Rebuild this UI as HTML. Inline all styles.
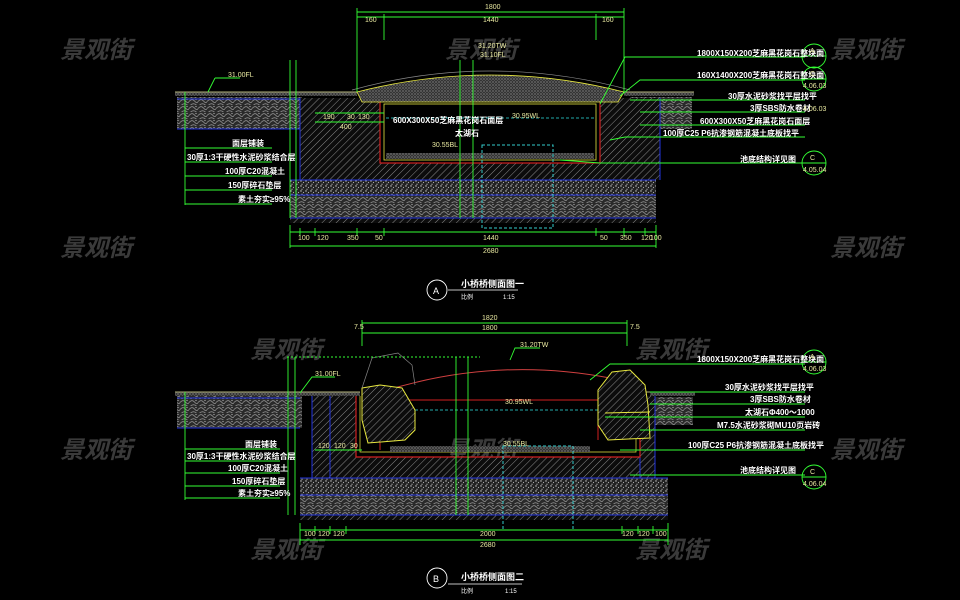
<!DOCTYPE html>
<html><head><meta charset="utf-8"><style>
html,body{margin:0;padding:0;background:#000;}
svg{display:block;}
text{font-family:"Liberation Sans","Noto Sans CJK SC",sans-serif;}
.d{fill:#e8e8a0;font-size:7px;}
.g{stroke:#3f3;stroke-width:0.9;fill:none;}
.lab{fill:#fff;font-size:8px;font-weight:bold;font-family:"Liberation Sans","Noto Sans CJK SC",sans-serif;}
.wm{fill:#6a6a6a;opacity:0.55;font-size:24px;font-style:italic;font-weight:bold;font-family:"Liberation Sans","Noto Sans CJK SC",sans-serif;}
</style></head><body>
<svg width="960" height="600" viewBox="0 0 960 600" xmlns="http://www.w3.org/2000/svg">
<defs>
<pattern id="h" width="5" height="5" patternUnits="userSpaceOnUse" patternTransform="rotate(45)">
<rect width="5" height="5" fill="#0c0c0c"/><line x1="0" y1="0" x2="0" y2="5" stroke="#aaa" stroke-width="0.8"/></pattern>
<pattern id="gv" width="5" height="5" patternUnits="userSpaceOnUse">
<rect width="5" height="5" fill="#222"/><circle cx="1" cy="1" r="0.7" fill="#ccc"/><circle cx="3.5" cy="2.5" r="0.6" fill="#aaa"/><circle cx="2" cy="4.2" r="0.6" fill="#bbb"/></pattern>
<pattern id="rb" width="9" height="7" patternUnits="userSpaceOnUse">
<rect width="9" height="7" fill="#2a2a2a"/><path d="M0 3.5 Q3 0 5.5 3 T9 3.5 M1.5 7 Q4.5 4.5 7.5 7" stroke="#9a9a9a" stroke-width="0.7" fill="none"/><circle cx="7" cy="1.5" r="0.6" fill="#bbb"/></pattern>
<pattern id="st" width="3" height="3" patternUnits="userSpaceOnUse">
<rect width="3" height="3" fill="#333"/><circle cx="1" cy="1" r="0.6" fill="#aaa"/><circle cx="2.3" cy="2.3" r="0.4" fill="#888"/></pattern>
</defs>
<rect width="960" height="600" fill="#000"/>

<g class="wm">
<text x="60" y="58">景观街</text><text x="445" y="58">景观街</text><text x="830" y="58">景观街</text>
<text x="60" y="256">景观街</text><text x="830" y="256">景观街</text>
<text x="250" y="358">景观街</text><text x="635" y="358">景观街</text>
<text x="60" y="458">景观街</text><text x="445" y="458">景观街</text><text x="830" y="458">景观街</text>
<text x="250" y="558">景观街</text><text x="635" y="558">景观街</text>
</g>

<!-- ============ SECTION A ============ -->
<rect x="175" y="92" width="182" height="4" fill="url(#st)"/>
<line x1="175" y1="92" x2="357" y2="92" stroke="#e8e8a0" stroke-width="0.8"/>
<rect x="177" y="97" width="125" height="32" fill="url(#rb)"/>
<line x1="177" y1="99" x2="300" y2="99" stroke="#2233dd"/>
<line x1="177" y1="129" x2="300" y2="129" stroke="#2233dd"/>
<rect x="624" y="92" width="70" height="4" fill="url(#st)"/>
<rect x="630" y="97" width="62" height="32" fill="url(#rb)"/>
<line x1="624" y1="92" x2="694" y2="92" stroke="#e8e8a0" stroke-width="0.8"/>
<path d="M300 98 H380 V163 H600 V98 H660 V180 H300 Z" fill="url(#h)"/>
<path d="M300 98 V180 M660 98 V180" stroke="#2233dd"/>
<rect x="380" y="100" width="220" height="63" fill="none" stroke="#d02020" stroke-width="1.2"/>
<rect x="384" y="104" width="212" height="56" fill="#000" stroke="#e8e840" stroke-width="0.8"/>
<rect x="386" y="153" width="208" height="6" fill="url(#st)"/>
<line x1="386" y1="118" x2="594" y2="118" stroke="#2aa" stroke-dasharray="3,2"/>
<path d="M357 92 Q490 58 624 92 L618 102 H362 Z" fill="url(#st)" stroke="#e8e840" stroke-width="0.8"/>
<path d="M352 90 Q490 52 630 90" stroke="#888" fill="none" stroke-width="0.7"/>
<rect x="290" y="180" width="366" height="15" fill="url(#gv)"/>
<rect x="290" y="195" width="366" height="23" fill="url(#rb)"/>
<rect x="290" y="218" width="366" height="5" fill="url(#h)"/>
<path d="M290 180 H656 M290 195 H656 M290 218 H656" stroke="#2233dd" stroke-width="1"/>
<rect x="482" y="145" width="71" height="83" fill="none" stroke="#3cc" stroke-dasharray="3,2"/>
<g class="g">
<line x1="357" y1="12" x2="624" y2="12"/><line x1="357" y1="17" x2="624" y2="17"/>
<line x1="357" y1="8" x2="357" y2="92"/><line x1="624" y1="8" x2="624" y2="92"/>
<line x1="384" y1="14" x2="384" y2="40"/><line x1="596" y1="14" x2="596" y2="40"/>
<line x1="290" y1="232" x2="656" y2="232"/><line x1="290" y1="246" x2="656" y2="246"/>
<line x1="290" y1="225" x2="290" y2="248"/><line x1="656" y1="225" x2="656" y2="248"/>
<line x1="300" y1="228" x2="300" y2="236"/><line x1="315" y1="228" x2="315" y2="236"/><line x1="357" y1="228" x2="357" y2="236"/><line x1="384" y1="228" x2="384" y2="236"/><line x1="596" y1="228" x2="596" y2="236"/><line x1="624" y1="228" x2="624" y2="236"/><line x1="645" y1="228" x2="645" y2="236"/>
<line x1="290" y1="60" x2="290" y2="218"/><line x1="296" y1="60" x2="296" y2="218"/>
<line x1="460" y1="60" x2="460" y2="218"/><line x1="473" y1="60" x2="473" y2="218"/>
<line x1="185" y1="92" x2="185" y2="205"/>
<line x1="185" y1="148" x2="272" y2="148"/><line x1="185" y1="162" x2="272" y2="162"/><line x1="185" y1="176" x2="272" y2="176"/><line x1="185" y1="190" x2="272" y2="190"/><line x1="185" y1="204" x2="272" y2="204"/>
<line x1="215" y1="78" x2="240" y2="78"/><line x1="215" y1="78" x2="208" y2="92"/>
<polyline points="600,104 625,57 805,57"/><polyline points="620,96 640,80 805,80"/><line x1="630" y1="100" x2="805" y2="100"/>
<line x1="640" y1="112" x2="805" y2="112"/><line x1="640" y1="125" x2="805" y2="125"/><polyline points="610,140 625,137 805,137"/><polyline points="560,160 600,163 805,163"/>
<line x1="315" y1="113" x2="384" y2="113"/><line x1="315" y1="122" x2="384" y2="122"/>
<circle cx="814" cy="56" r="12"/><line x1="802" y1="56" x2="826" y2="56"/>
<circle cx="814" cy="79" r="12"/><line x1="802" y1="79" x2="826" y2="79"/>
<circle cx="814" cy="163" r="12"/><line x1="802" y1="163" x2="826" y2="163"/>
</g>
<g class="d">
<text x="485" y="9">1800</text><text x="365" y="22">160</text><text x="483" y="22">1440</text><text x="602" y="22">160</text>
<text x="298" y="240">100</text><text x="317" y="240">120</text><text x="347" y="240">350</text><text x="375" y="240">50</text><text x="483" y="240">1440</text><text x="600" y="240">50</text><text x="620" y="240">350</text><text x="641" y="240">120</text><text x="650" y="240">100</text>
<text x="483" y="253">2680</text>
<text x="228" y="77">31.00FL</text><text x="478" y="48">31.20TW</text><text x="480" y="57">31.10FL</text><text x="512" y="118">30.95WL</text><text x="432" y="147">30.55BL</text>
<text x="323" y="119">190</text><text x="347" y="119">30</text><text x="358" y="119">130</text><text x="340" y="129">400</text>
</g>
<g class="lab">
<text x="232" y="146">面层铺装</text><text x="187" y="160">30厚1:3干硬性水泥砂浆结合层</text><text x="225" y="174">100厚C20混凝土</text><text x="228" y="188">150厚碎石垫层</text><text x="238" y="202">素土夯实≥95%</text>
<text x="393" y="123">600X300X50芝麻黑花岗石面层</text><text x="455" y="136">太湖石</text>
<text x="697" y="56">1800X150X200芝麻黑花岗石整块面</text><text x="697" y="78">160X1400X200芝麻黑花岗石整块面</text>
<text x="728" y="99">30厚水泥砂浆找平层找平</text><text x="750" y="111">3厚SBS防水卷材</text><text x="700" y="124">600X300X50芝麻黑花岗石面层</text>
<text x="663" y="136">100厚C25 P6抗渗钢筋混凝土底板找平</text><text x="740" y="162">池底结构详见图</text>
</g>
<g style="font-size:7px;fill:#e8e8a0"><text x="810" y="53">A</text><text x="803" y="88">4.06.03</text><text x="810" y="76">C</text><text x="803" y="111">4.06.03</text><text x="810" y="160">C</text><text x="803" y="172">4.05.04</text></g>
<circle cx="437" cy="290" r="10" fill="none" stroke="#fff" stroke-width="0.9"/>
<text x="433" y="294" style="fill:#fff;font-size:9px">A</text>
<line x1="448" y1="290" x2="518" y2="290" stroke="#fff" stroke-width="0.8"/>
<text x="461" y="287" style="fill:#fff;font-size:9px;font-weight:bold">小桥桥侧面图一</text>
<text x="461" y="299" style="fill:#fff;font-size:6px">比例</text><text x="503" y="299" style="fill:#fff;font-size:6px">1:15</text>

<!-- ============ SECTION B ============ -->
<rect x="175" y="392" width="185" height="4" fill="url(#st)"/>
<line x1="175" y1="392" x2="360" y2="392" stroke="#e8e8a0" stroke-width="0.8"/>
<rect x="177" y="396" width="125" height="32" fill="url(#rb)"/>
<line x1="177" y1="398" x2="300" y2="398" stroke="#2233dd"/>
<line x1="177" y1="428" x2="300" y2="428" stroke="#2233dd"/>
<rect x="650" y="392" width="45" height="4" fill="url(#st)"/>
<rect x="655" y="397" width="38" height="28" fill="url(#rb)"/>
<line x1="645" y1="392" x2="695" y2="392" stroke="#e8e8a0" stroke-width="0.8"/>
<path d="M312 396 H356 V457 H640 V396 H655 V478 H312 Z" fill="url(#h)"/>
<path d="M312 396 V478 M655 396 V478 M330 396 V478 M640 396 V478" stroke="#2233dd"/>
<path d="M356 396 V457 H640 V396" fill="none" stroke="#d02020" stroke-width="1.2"/>
<path d="M360 396 V452 H636 V396" fill="none" stroke="#e8e840" stroke-width="0.7"/>
<rect x="390" y="446" width="200" height="6" fill="url(#st)"/>
<line x1="400" y1="410" x2="600" y2="410" stroke="#2aa" stroke-dasharray="3,2"/>
<path d="M372 395 Q490 355 610 378" stroke="#d04040" fill="none" stroke-width="1"/>
<path d="M375 400 H600 M380 400 V450 M598 400 V440" stroke="#d02020" fill="none"/>
<path d="M362 388 L380 385 L402 388 L415 410 L415 430 L405 440 L368 443 L362 420 Z" fill="url(#h)" stroke="#e8e840"/>
<path d="M598 390 L612 372 L630 370 L645 385 L648 405 L650 438 L608 440 L598 425 Z" fill="url(#h)" stroke="#e8e840"/>
<path d="M605 413 L650 412" stroke="#e8e840"/>
<path d="M362 388 L372 358 L398 353 L412 365 L415 385" fill="none" stroke="#888" stroke-width="0.7"/>
<rect x="300" y="478" width="368" height="17" fill="url(#gv)"/>
<rect x="300" y="495" width="368" height="20" fill="url(#rb)"/>
<rect x="300" y="515" width="368" height="5" fill="url(#h)"/>
<path d="M300 478 H668 M300 495 H668 M300 515 H668" stroke="#2233dd"/>
<rect x="503" y="446" width="70" height="84" fill="none" stroke="#3cc" stroke-dasharray="3,2"/>
<g class="g">
<line x1="362" y1="323" x2="627" y2="323"/><line x1="362" y1="333" x2="627" y2="333"/>
<line x1="362" y1="320" x2="362" y2="346"/><line x1="627" y1="320" x2="627" y2="346"/>
<line x1="300" y1="530" x2="668" y2="530"/><line x1="300" y1="540" x2="668" y2="540"/>
<line x1="300" y1="523" x2="300" y2="545"/><line x1="668" y1="523" x2="668" y2="545"/>
<line x1="315" y1="526" x2="315" y2="534"/><line x1="330" y1="526" x2="330" y2="534"/><line x1="346" y1="526" x2="346" y2="534"/><line x1="622" y1="526" x2="622" y2="534"/><line x1="638" y1="526" x2="638" y2="534"/><line x1="653" y1="526" x2="653" y2="534"/>
<line x1="288" y1="357" x2="288" y2="515"/><line x1="295" y1="357" x2="295" y2="515"/>
<line x1="287" y1="357" x2="480" y2="357" stroke-dasharray="2,2"/>
<line x1="456" y1="357" x2="456" y2="515"/><line x1="468" y1="357" x2="468" y2="515"/>
<line x1="185" y1="392" x2="185" y2="500"/>
<line x1="185" y1="449" x2="280" y2="449"/><line x1="185" y1="461" x2="280" y2="461"/><line x1="185" y1="473" x2="280" y2="473"/><line x1="185" y1="486" x2="280" y2="486"/><line x1="185" y1="498" x2="280" y2="498"/>
<polyline points="300,393 312,377 335,377"/><polyline points="510,360 515,348 540,348"/>
<polyline points="590,380 610,364 805,364"/><line x1="650" y1="392" x2="805" y2="392"/><line x1="650" y1="404" x2="805" y2="404"/>
<line x1="605" y1="417" x2="805" y2="417"/><line x1="640" y1="430" x2="805" y2="430"/><polyline points="620,450 640,450 805,450"/><line x1="630" y1="475" x2="805" y2="475"/>
<line x1="315" y1="450" x2="362" y2="450"/>
<circle cx="814" cy="362" r="12"/><line x1="802" y1="362" x2="826" y2="362"/>
<circle cx="814" cy="477" r="12"/><line x1="802" y1="477" x2="826" y2="477"/>
</g>
<g class="d">
<text x="482" y="320">1820</text><text x="482" y="330">1800</text><text x="354" y="329">7.5</text><text x="630" y="329">7.5</text>
<text x="304" y="536">100</text><text x="318" y="536">120</text><text x="333" y="536">120</text><text x="480" y="536">2000</text><text x="622" y="536">120</text><text x="638" y="536">120</text><text x="655" y="536">100</text>
<text x="480" y="547">2680</text>
<text x="315" y="376">31.00FL</text><text x="520" y="347">31.20TW</text><text x="505" y="404">30.95WL</text><text x="503" y="446">30.55BL</text>
<text x="318" y="448">120</text><text x="334" y="448">120</text><text x="350" y="448">30</text>
</g>
<g class="lab">
<text x="245" y="447">面层铺装</text><text x="187" y="459">30厚1:3干硬性水泥砂浆结合层</text><text x="228" y="471">100厚C20混凝土</text><text x="232" y="484">150厚碎石垫层</text><text x="238" y="496">素土夯实≥95%</text>
<text x="697" y="362">1800X150X200芝麻黑花岗石整块面</text><text x="725" y="390">30厚水泥砂浆找平层找平</text><text x="750" y="402">3厚SBS防水卷材</text>
<text x="745" y="415">太湖石Φ400～1000</text><text x="717" y="428">M7.5水泥砂浆砌MU10页岩砖</text>
<text x="688" y="448">100厚C25 P6抗渗钢筋混凝土底板找平</text><text x="740" y="473">池底结构详见图</text>
</g>
<g style="font-size:7px;fill:#e8e8a0"><text x="810" y="359">A</text><text x="803" y="371">4.06.03</text><text x="810" y="474">C</text><text x="803" y="486">4.06.04</text></g>
<circle cx="437" cy="578" r="10" fill="none" stroke="#fff" stroke-width="0.9"/>
<text x="433" y="582" style="fill:#fff;font-size:9px">B</text>
<line x1="448" y1="584" x2="522" y2="584" stroke="#fff" stroke-width="0.8"/>
<text x="461" y="580" style="fill:#fff;font-size:9px;font-weight:bold">小桥桥侧面图二</text>
<text x="461" y="593" style="fill:#fff;font-size:6px">比例</text><text x="505" y="593" style="fill:#fff;font-size:6px">1:15</text>
</svg>
</body></html>
